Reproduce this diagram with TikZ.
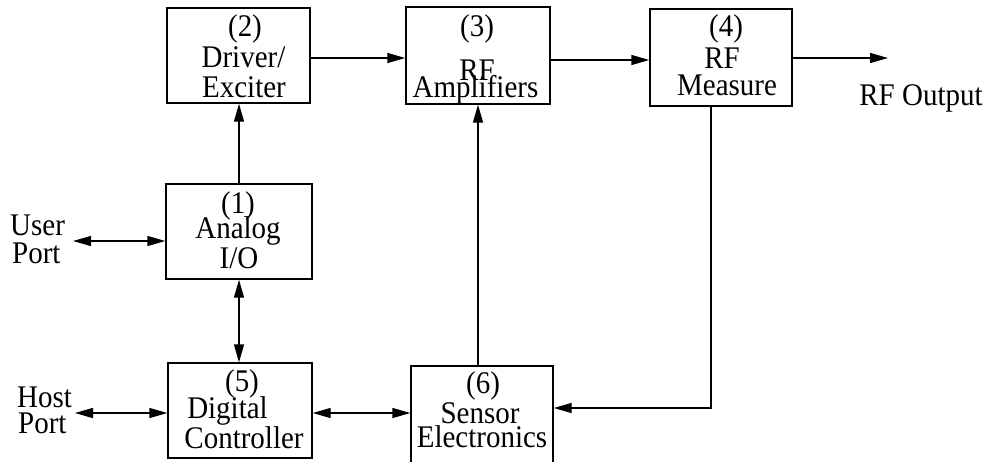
\documentclass[tikz,border=0pt]{standalone}
\usepackage{fontspec}
\setmainfont{Liberation Serif}[FakeStretch=0.92]
\usetikzlibrary{arrows.meta,calc}
\begin{document}
\begin{tikzpicture}[x=1pt,y=-1pt,
  box/.style={draw, line width=1.4pt, inner sep=0pt},
  txt/.style={anchor=base, inner sep=0pt, font=\fontsize{31.5}{30}\selectfont},
  ltxt/.style={txt, anchor=base west},
  tip/.tip={Triangle[length=18pt,width=10pt]},
  conn/.style={line width=1.4pt, -tip},
  bi/.style={line width=1.4pt, tip-tip}]
\useasboundingbox (0,0) rectangle (995,461);
% boxes
\node[box, minimum width=143pt, minimum height=95pt] (b2) at (238.5,55.5) {};
\node[box, minimum width=144pt, minimum height=97pt] (b3) at (478,55.5) {};
\node[box, minimum width=142pt, minimum height=97pt] (b4) at (721,57.5) {};
\node[box, minimum width=146pt, minimum height=95pt] (b1) at (239,231.5) {};
\node[box, minimum width=144pt, minimum height=95pt] (b5) at (240,410.5) {};
\node[box, minimum width=142pt, minimum height=100pt] (b6) at (482,416) {};
% box texts, one node per printed line
\node[txt] (t2a) at (245,36) {(2)};
\node[txt] (t2b) at (243.5,67) {Driver/};
\node[txt] (t2c) at (244,97) {Exciter};
\node[txt] (t3a) at (477,36) {(3)};
\node[txt] (t3b) at (477,80) {RF};
\node[txt] (t3c) at (475.5,97) {Amplifiers};
\node[txt] (t4a) at (726,36) {(4)};
\node[txt] (t4b) at (722,68) {RF};
\node[txt] (t4c) at (727,95) {Measure};
\node[txt] (t1a) at (238,213) {(1)};
\node[txt] (t1b) at (238,238) {Analog};
\node[txt] (t1c) at (239,268) {I/O};
\node[txt] (t5a) at (242,391) {(5)};
\node[txt] (t5b) at (227.5,418) {Digital};
\node[txt] (t5c) at (244,448) {Controller};
\node[txt] (t6a) at (483,393) {(6)};
\node[txt] (t6b) at (480,423) {Sensor};
\node[txt] (t6c) at (482,447) {Electronics};
% outside labels
\node[ltxt] (usera) at (10,235) {User};
\node[ltxt] (userb) at (12,263) {Port};
\node[ltxt] (hosta) at (17,407) {Host};
\node[ltxt] (hostb) at (18,433) {Port};
\node[txt] (rfout) at (921,105) {RF Output};
% free ends
\coordinate (userend) at (73,241);
\coordinate (hostend) at (75,413);
\coordinate (outend) at (888,58);
% connectors
\draw[conn] (b1.north) -- (b1.north |- b2.south);
\draw[conn] ([yshift=-2.5pt]b2.east) -- ([yshift=-2.5pt]b2.east -| b3.west);
\draw[conn] ([yshift=-4.5pt]b3.east) -- ([yshift=-4.5pt]b3.east -| b4.west);
\draw[conn] (b4.east |- outend) -- (outend);
\draw[conn] ([xshift=-10pt]b4.south) |- ([yshift=8pt]b6.east);
\draw[conn] (b6.north -| b3.south) -- (b3.south);
\draw[bi] (b1.south) -- (b1.south |- b5.north);
\draw[bi] (b5.east |- hostend) -- (b6.west |- hostend);
\draw[bi] (userend) -- (userend -| b1.west);
\draw[bi] (hostend) -- (hostend -| b5.west);
\end{tikzpicture}
\end{document}
